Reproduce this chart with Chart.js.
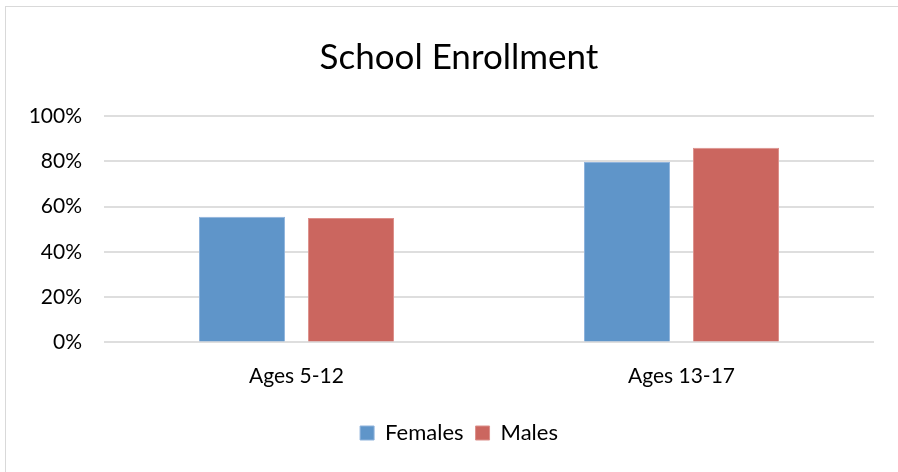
<!DOCTYPE html>
<html>
<head>
<meta charset="utf-8">
<script src="https://cdn.jsdelivr.net/npm/chart.js@4/dist/chart.umd.min.js"></script>
<style>
  html, body { margin: 0; padding: 0; background: #fff; }
  #wrap { position: relative; width: 898px; height: 472px; overflow: hidden; }
  #frame { position: absolute; left: 5px; top: 6px; width: 1000px; height: 1000px; border: 1px solid #d9d9d9; }
  #myChart { position: absolute; left: 0; top: 0; }
</style>
</head>
<body>
<div id="wrap">
  <div id="frame"></div>
  <canvas id="myChart" width="918" height="472"></canvas>
</div>
<script>
'use strict';

// categories and series
const ageGroups = ['Ages 5-12', 'Ages 13-17'];
const females = [55.5, 79.7];
const males = [55.0, 86.0];
const yTicks = [0, 20, 40, 60, 80, 100];

const font = 'Lato, "Open Sans", sans-serif';
const ctx = document.getElementById('myChart').getContext('2d');

// title and legend are centred on the whole frame, not just the plot
const centreOnFrame = {
  id: 'centreOnFrame',
  afterLayout(chart) {
    chart.titleBlock.left += 44;
    chart.legend.left += 44;
  }
};

const myChart = new Chart(ctx, {
  type: 'bar',
  data: {
    labels: ageGroups,
    datasets: [
      {
        label: 'Females',
        data: females,
        backgroundColor: '#5f95c9',
        borderColor: '#8fb3dc',
        borderWidth: 1,
        categoryPercentage: 0.566,
        barPercentage: 0.79
      },
      {
        label: 'Males',
        data: males,
        backgroundColor: '#cb665f',
        borderColor: '#dc908b',
        borderWidth: 1,
        categoryPercentage: 0.566,
        barPercentage: 0.79
      }
    ]
  },
  options: {
    responsive: false,
    animation: false,
    layout: { padding: { left: 0, right: 44, top: 30, bottom: 18 } },
    plugins: {
      title: {
        display: true,
        text: 'School Enrollment',
        color: '#000',
        font: { family: font, size: 35, weight: 'normal' },
        padding: { top: 7, bottom: 37 }
      },
      legend: {
        display: true,
        position: 'bottom',
        labels: {
          color: '#000',
          font: { family: font, size: 22 },
          boxWidth: 14,
          boxHeight: 14,
          padding: 12
        }
      },
      tooltip: { enabled: false }
    },
    scales: {
      x: {
        afterFit: function (scale) { scale.height = 67.6; },
        grid: { display: false, drawTicks: false },
        border: { display: false },
        ticks: { color: '#000', font: { family: font, size: 21 }, padding: 21 }
      },
      y: {
        min: 0,
        max: 100,
        afterBuildTicks: function (scale) {
          scale.ticks = yTicks.map(v => ({ value: v }));
        },
        afterFit: function (scale) { scale.width = 104; },
        grid: { color: '#dedede', lineWidth: 2, drawTicks: false },
        border: { display: false },
        ticks: {
          color: '#000',
          font: { family: font, size: 21 },
          padding: 22,
          callback: v => v + '%'
        }
      }
    }
  },
  plugins: [centreOnFrame]
});
</script>
</body>
</html>
